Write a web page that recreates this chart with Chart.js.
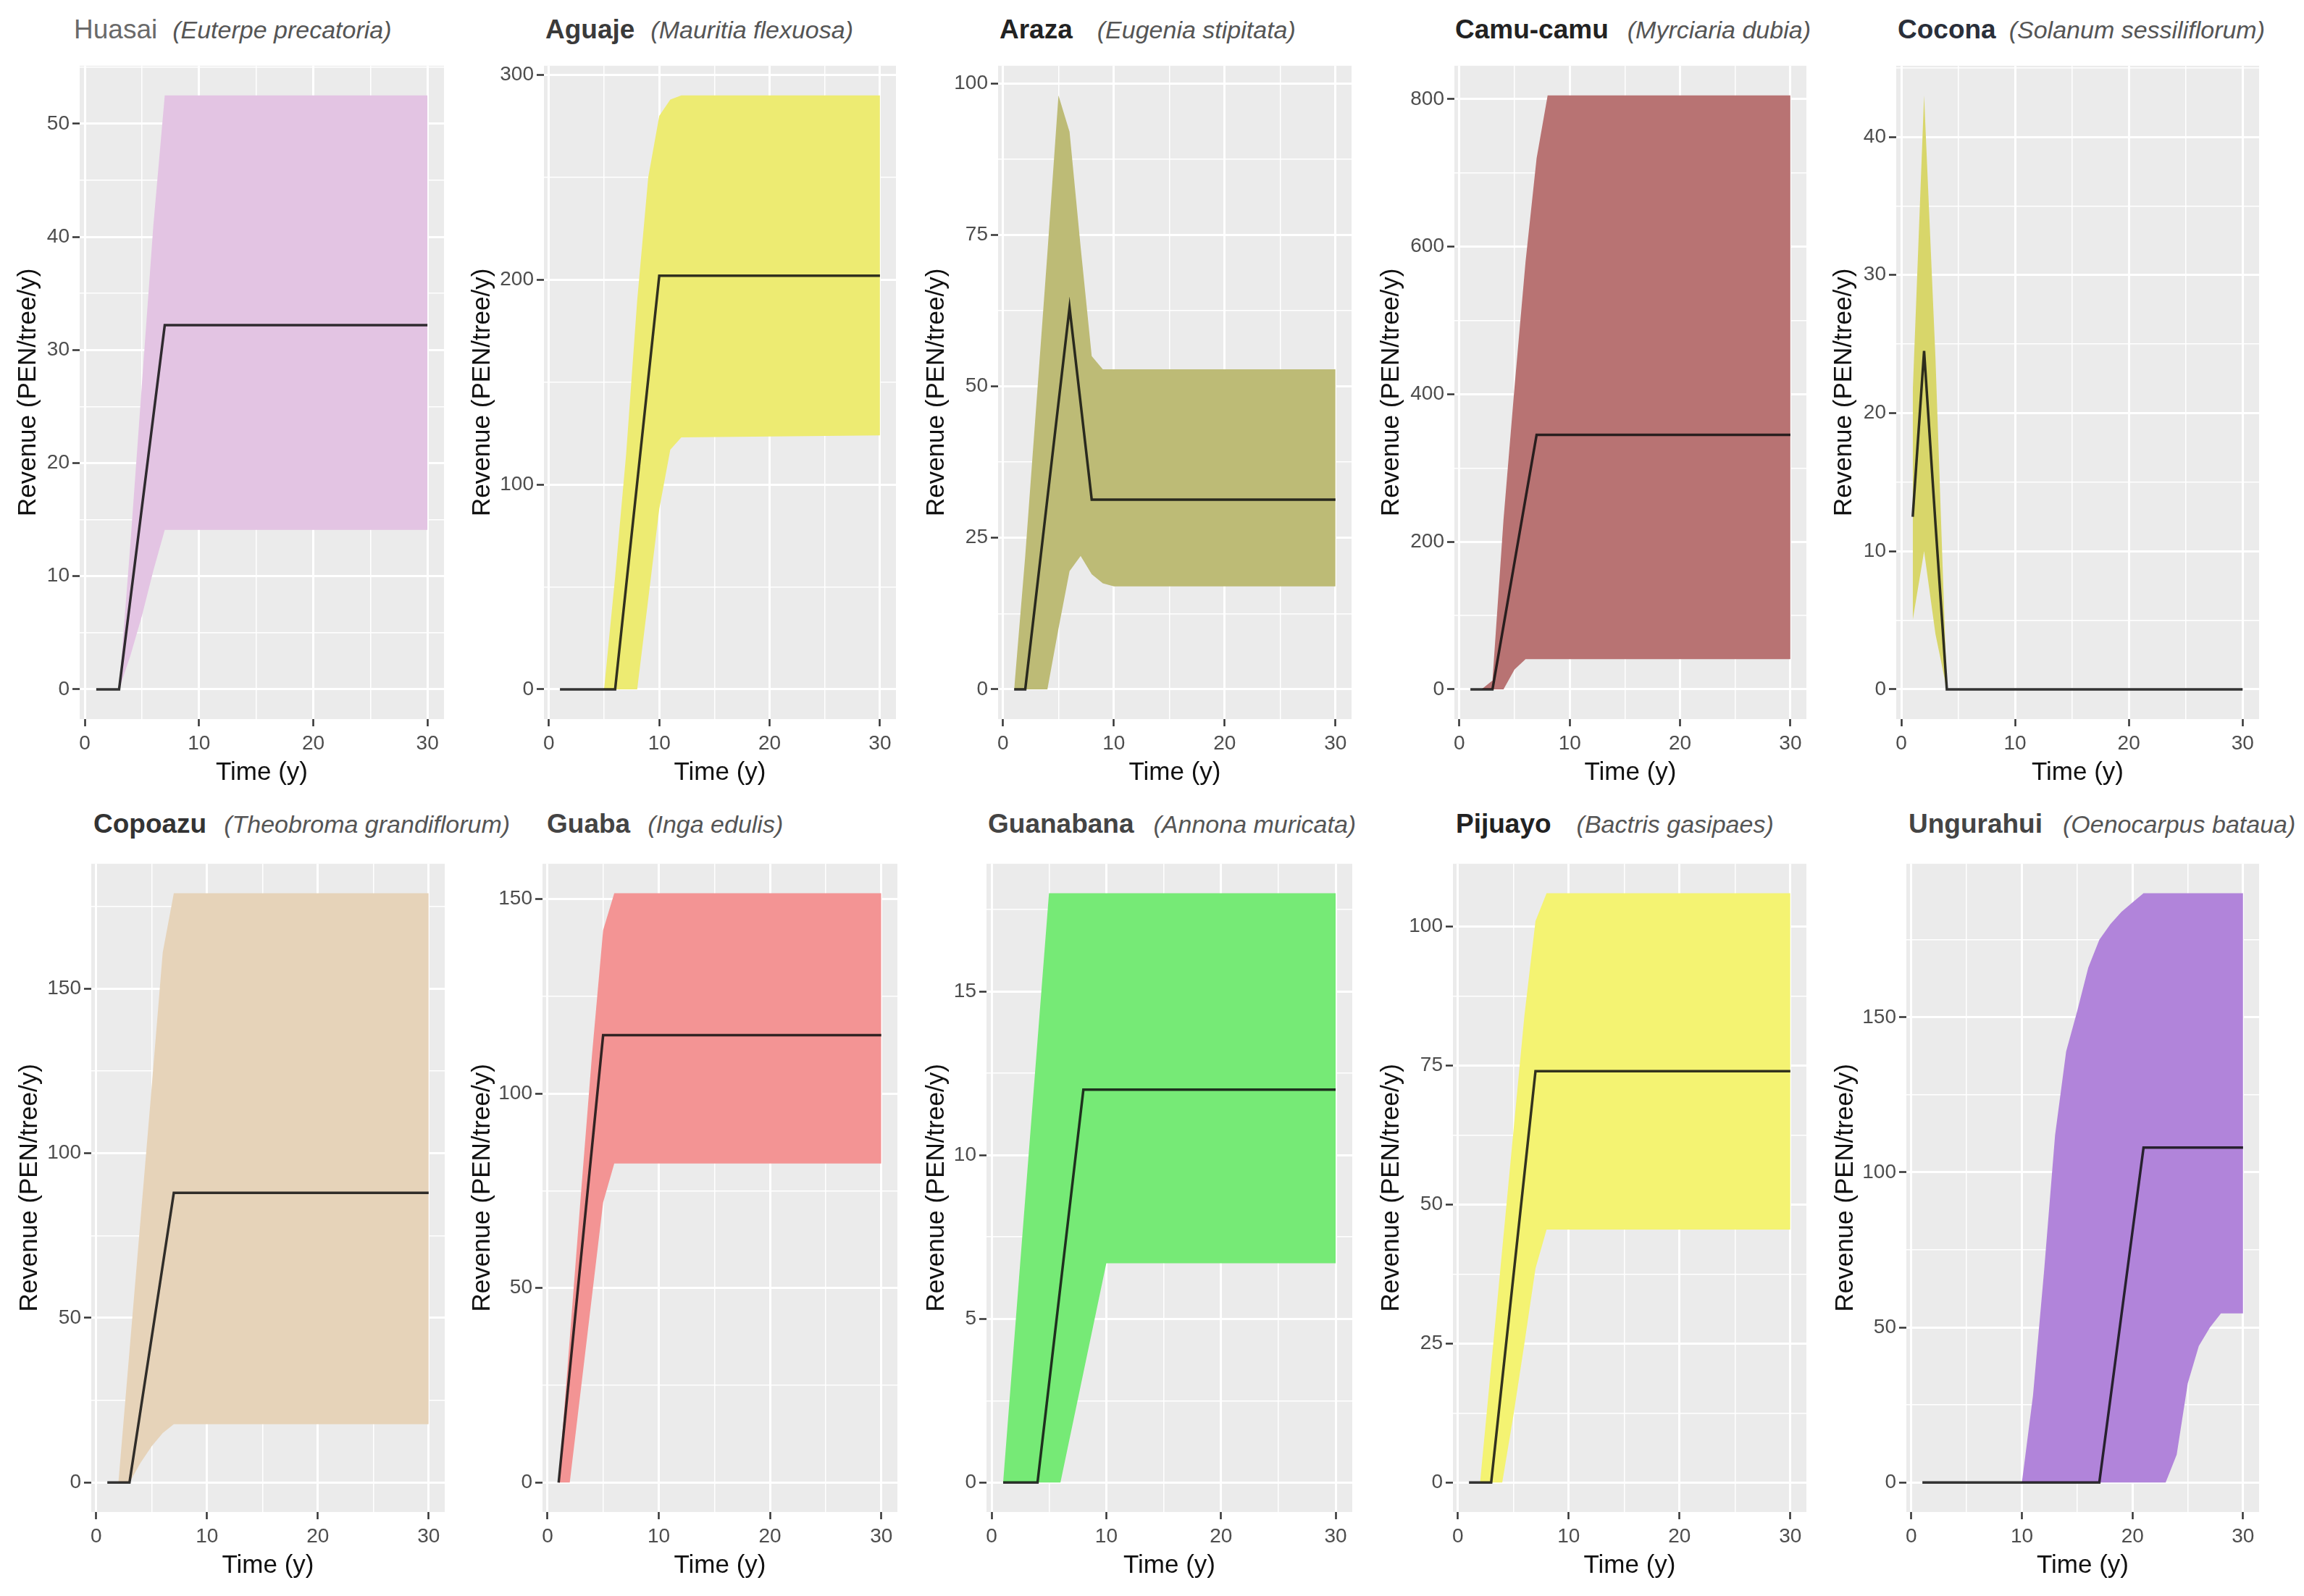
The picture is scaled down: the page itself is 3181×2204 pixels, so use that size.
<!DOCTYPE html>
<html>
<head>
<meta charset="utf-8">
<script src="https://cdn.jsdelivr.net/npm/chart.js@4.4.1/dist/chart.umd.min.js"></script>
<style>
  html, body { margin: 0; padding: 0; background: #fff; width: 3181px; height: 2204px; overflow: hidden; }
  body { font-family: "Liberation Sans", Arial, sans-serif; position: relative; }
  canvas { position: absolute; }
  .ttl { position: absolute; white-space: nowrap; line-height: 1; }
  .ttl .nm { font-size: 37px; }
  .ttl .sci { font-size: 34px; font-style: italic; color: #555; }
</style>
</head>
<body>
<script>
// ---- data (year, revenue PEN/tree/y) ----
const species = ['Huasai', 'Aguaje', 'Araza', 'Camu-camu', 'Cocona',
                 'Copoazu', 'Guaba', 'Guanabana', 'Pijuayo', 'Ungurahui'];
const sciNames = ['(Euterpe precatoria)', '(Mauritia flexuosa)', '(Eugenia stipitata)',
                  '(Myrciaria dubia)', '(Solanum sessiliflorum)', '(Theobroma grandiflorum)',
                  '(Inga edulis)', '(Annona muricata)', '(Bactris gasipaes)', '(Oenocarpus bataua)'];

const years = [
  [1, 3, 4, 5, 6, 7, 30],
  [1, 5, 6, 7, 8, 9, 10, 11, 12, 30],
  [1, 2, 3, 4, 5, 6, 7, 8, 9, 10, 30],
  [1, 2, 3, 4, 5, 6, 7, 8, 30],
  [1, 2, 3, 4, 30],
  [1, 2, 3, 4, 5, 6, 7, 30],
  [1, 2, 3, 4, 5, 6, 30],
  [1, 4, 5, 6, 8, 10, 30],
  [1, 2, 3, 4, 5, 6, 7, 8, 30],
  [1, 10, 11, 12, 13, 14, 15, 16, 17, 18, 19, 20, 21, 23, 24, 25, 26, 27, 28, 30]
];
const lower = [
  [0, 0, 3, 6.5, 10.5, 14.1, 14.1],
  [0, 0, 0, 0, 0, 44, 88, 117, 123, 124],
  [0, 0, 0, 0, 10, 19.5, 22, 19, 17.5, 17, 17],
  [0, 0, 0, 0, 27, 41, 41, 41, 41],
  [5, 10, 4, 0, 0],
  [0, 0, 0, 6, 11, 15, 17.7, 17.7],
  [0, 0, 24, 48, 72, 82, 82],
  [0, 0, 0, 0, 3.35, 6.7, 6.7],
  [0, 0, 0, 0, 12, 25, 38.5, 45.5, 45.5],
  [0, 0, 0, 0, 0, 0, 0, 0, 0, 0, 0, 0, 0, 0, 9, 32, 44, 50, 54.5, 54.5]
];
const median = [
  [0, 0, 8.05, 16.1, 24.15, 32.2, 32.2],
  [0, 0, 0, 50.5, 101, 151.5, 202, 202, 202, 202],
  [0, 0, 15.75, 31.5, 47.25, 63, 47.2, 31.3, 31.3, 31.3, 31.3],
  [0, 0, 0, 86, 172.5, 259, 345, 345, 345],
  [12.5, 24.5, 12, 0, 0],
  [0, 0, 0, 22, 44, 66, 88, 88],
  [0, 28.75, 57.5, 86.25, 115, 115, 115],
  [0, 0, 3, 6, 12, 12, 12],
  [0, 0, 0, 18.5, 37, 55.5, 74, 74, 74],
  [0, 0, 0, 0, 0, 0, 0, 0, 0, 27, 54, 81, 108, 108, 108, 108, 108, 108, 108, 108]
];
const upper = [
  [0, 0, 13, 27, 41, 52.5, 52.5],
  [0, 0, 55, 115, 190, 250, 280, 288, 290, 290],
  [0, 22, 47, 72, 98, 92, 73, 55, 52.8, 52.8, 52.8],
  [0, 0, 12, 230, 410, 580, 720, 805, 805],
  [21.5, 43, 24, 0, 0],
  [0, 0, 40, 80, 120, 161, 179, 179],
  [0, 37, 74, 110, 142, 151.5, 151.5],
  [0, 13.5, 18, 18, 18, 18, 18],
  [0, 0, 21, 42, 63, 84, 101, 106, 106],
  [0, 0, 28, 68, 112, 139, 152, 166, 175, 180, 184, 187, 190, 190, 190, 190, 190, 190, 190, 190]
];

const yMajorTicks = [
  [0, 10, 20, 30, 40, 50],
  [0, 100, 200, 300],
  [0, 25, 50, 75, 100],
  [0, 200, 400, 600, 800],
  [0, 10, 20, 30, 40],
  [0, 50, 100, 150],
  [0, 50, 100, 150],
  [0, 5, 10, 15],
  [0, 25, 50, 75, 100],
  [0, 50, 100, 150]
];
const xMajorTicks = [0, 10, 20, 30];
const xMinorTicks = [5, 15, 25];

// ---- styling ----
const ribbonColor = ['#E3C4E3', '#EDEB72', '#BDBB76', '#B87373', '#D8D66A',
                     '#E6D3B9', '#F39494', '#76EA76', '#F4F372', '#B184DA'];
const nameColor = ['#6a6a6a', '#3a3a3a', '#222', '#222', '#2a2f3a',
                   '#333', '#444', '#444', '#222', '#444'];
const nameWeight = ['normal', 'bold', 'bold', 'bold', 'bold', 'bold', 'bold', 'bold', 'bold', 'bold'];

// ---- layout (page pixels) ----
const rows = [
  { top: 80, bottom: 993, title: 42 },
  { top: 1182, bottom: 2088, title: 1139 }
];
const plotX = [
  [110, 613], [751, 1237], [1378, 1866], [2008, 2494], [2618, 3119],
  [126, 614], [749, 1239], [1362, 1867], [2006, 2494], [2632, 3119]
];
const yTitleX = [39, 666, 1293, 1921, 2546, 41, 666, 1293, 1921, 2548];
const titleX = [102, 753, 1380, 2009, 2620, 129, 755, 1364, 2010, 2635];
const titleGap = [21, 22, 34, 26, 18, 24, 24, 27, 35, 28];

Chart.defaults.font.family = '"Liberation Sans", Arial, sans-serif';

const panelBg = {
  id: 'panelBg',
  beforeDraw(chart) {
    const { ctx, chartArea: a } = chart;
    ctx.save();
    ctx.fillStyle = '#EBEBEB';
    ctx.fillRect(a.left, a.top, a.right - a.left, a.bottom - a.top);
    ctx.restore();
  }
};

const near = (list, v) => list.some((m) => Math.abs(m - v) < 1e-6);

species.forEach((name, i) => {
  const row = rows[Math.floor(i / 5)];
  const [pl, pr] = plotX[i];
  const cl = yTitleX[i] - 25;
  const ct = row.top - 10;
  const cw = pr + 12 - cl;
  const ch = row.bottom + 105 - ct;
  const yW = pl - cl;

  const cv = document.createElement('canvas');
  cv.width = cw;
  cv.height = ch;
  cv.style.cssText = `left:${cl}px;top:${ct}px;width:${cw}px;height:${ch}px`;
  document.body.appendChild(cv);

  const t = document.createElement('div');
  t.className = 'ttl';
  t.style.left = titleX[i] + 'px';
  t.style.top = (row.title - 20) + 'px';
  t.innerHTML = `<span class="nm" style="color:${nameColor[i]};font-weight:${nameWeight[i]}">${name}</span>` +
                `<span class="sci" style="margin-left:${titleGap[i]}px">${sciNames[i]}</span>`;
  document.body.appendChild(t);

  const pts = (vals) => vals.map((v, k) => ({ x: years[i][k], y: v }));
  const yTop = Math.max(...upper[i]);
  const yMin = -0.05 * yTop;
  const yMax = 1.05 * yTop;
  const yMajor = yMajorTicks[i];
  const half = (yMajor[1] - yMajor[0]) / 2;
  const yAll = [];
  yMajor.forEach((m) => { yAll.push(m); yAll.push(m + half); yAll.push(m - half); });
  const yTicks = [...new Set(yAll)].filter((v) => v >= yMin && v <= yMax).sort((a, b) => a - b);
  const xTicks = [...xMajorTicks, ...xMinorTicks].sort((a, b) => a - b);

  const gridFor = (majors) => ({
    color: '#ffffff',
    lineWidth: (c) => (near(majors, c.tick.value) ? 3 : 1.5),
    tickColor: (c) => (near(majors, c.tick.value) ? '#333333' : 'rgba(0,0,0,0)'),
    tickWidth: 2.5,
    tickLength: 10,
    drawTicks: true
  });

  new Chart(cv, {
    type: 'line',
    data: {
      datasets: [
        { data: pts(lower[i]), order: 2, borderWidth: 0, borderColor: 'rgba(0,0,0,0)', pointRadius: 0, fill: false },
        { data: pts(upper[i]), order: 1, borderWidth: 0, borderColor: 'rgba(0,0,0,0)', pointRadius: 0,
          fill: '-1', backgroundColor: ribbonColor[i] },
        // median drawn last, on top of the band
        { data: pts(median[i]), order: 0, borderColor: 'rgba(15,15,15,0.85)', borderWidth: 3.5, pointRadius: 0, fill: false }
      ]
    },
    options: {
      responsive: false,
      animation: false,
      devicePixelRatio: 1,
      layout: { padding: { top: 10, right: 12, bottom: 5, left: 0 } },
      plugins: { legend: { display: false }, tooltip: { enabled: false } },
      elements: { line: { tension: 0 } },
      scales: {
        x: {
          type: 'linear',
          min: 1 - 0.05 * 29,
          max: 30 + 0.05 * 29,
          afterBuildTicks: (axis) => { axis.ticks = xTicks.map((v) => ({ value: v })); },
          afterFit: (axis) => { axis.height = 100; },
          grid: gridFor(xMajorTicks),
          border: { display: false },
          ticks: {
            autoSkip: false, maxRotation: 0, padding: 7,
            color: '#4D4D4D', font: { size: 28 },
            callback: (v) => (near(xMajorTicks, v) ? String(v) : '')
          },
          title: { display: true, text: 'Time (y)', color: '#111', font: { size: 35 },
                   padding: { top: 0, bottom: 5 } }
        },
        y: {
          type: 'linear',
          min: yMin,
          max: yMax,
          afterBuildTicks: (axis) => { axis.ticks = yTicks.map((v) => ({ value: v })); },
          afterFit: (axis) => { axis.width = yW; },
          grid: gridFor(yMajor),
          border: { display: false },
          ticks: {
            autoSkip: false, padding: 4,
            color: '#4D4D4D', font: { size: 28 },
            callback: (v) => (near(yMajor, v) ? String(v) : '')
          },
          title: { display: true, text: 'Revenue (PEN/tree/y)', color: '#111', font: { size: 35 },
                   padding: { top: 4, bottom: 0 } }
        }
      }
    },
    plugins: [panelBg]
  });
});
</script>
</body>
</html>
